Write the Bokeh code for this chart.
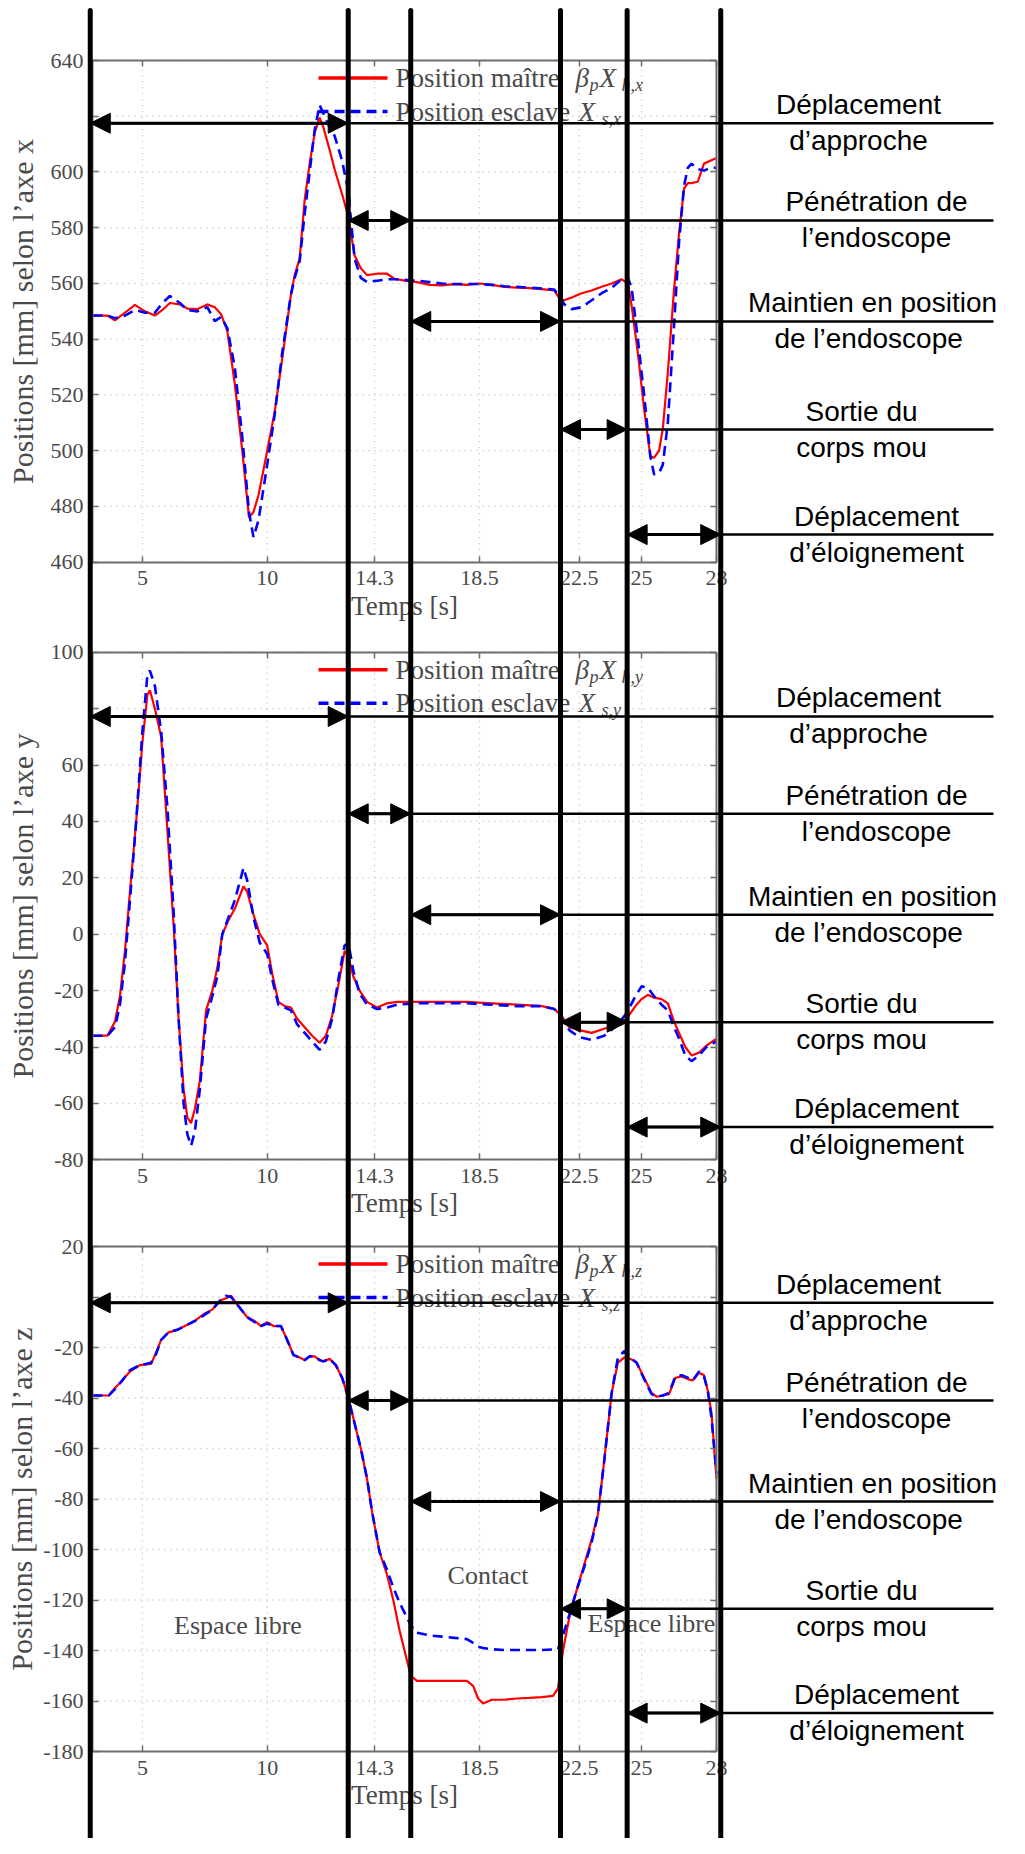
from bokeh.plotting import figure
from bokeh.models import Range1d, LinearAxis, FixedTicker, Arrow, NormalHead
from bokeh.core.properties import value
from bokeh.embed import file_html
from bokeh.resources import INLINE

# ---------------- data ----------------
time_x = [3.0, 3.6, 3.9, 4.3, 4.7, 5.1, 5.5, 5.8, 6.1, 6.5,
          6.8, 7.2, 7.6, 7.9, 8.15, 8.4, 8.7, 9.0, 9.27, 9.45,
          9.65, 10.0, 10.3, 10.6, 10.95, 11.1, 11.3, 11.5, 11.7, 11.9,
          12.1, 12.25, 12.5, 12.7, 13.0, 13.25, 13.5, 13.75, 14.0, 14.4,
          14.8, 15.1, 15.5, 16.0, 16.5, 17.0, 17.5, 18.0, 18.5, 19.0,
          19.5, 20.0, 20.5, 21.0, 21.5, 21.75, 21.9, 22.2, 22.6, 23.0,
          23.4, 23.8, 24.2, 24.45, 24.6, 24.85, 25.1, 25.35, 25.5, 25.7,
          25.85, 26.05, 26.3, 26.5, 26.7, 26.85, 27.0, 27.25, 27.5, 27.75, 28.0]
master_x = [548.5, 548.5, 546.8, 549.5, 552.3, 550, 548.5, 550.5, 553, 552.5,
            551, 550.8, 552.5, 551.5, 549, 543, 524, 500, 476, 478,
            484, 500, 514, 533, 556, 563, 569, 590, 603, 614,
            619.5, 616, 608, 601, 592, 584, 570, 565.5, 563, 563.5,
            563.5, 561.7, 561, 560.5, 559.5, 559.3, 559.8, 559.5, 560, 559.5,
            558.8, 558.5, 558.3, 558, 557.5, 554, 554, 555, 556.5, 557.5,
            558.8, 560, 561.5, 560, 552, 535, 515, 498, 497.5, 500,
            508, 528, 558, 578, 594, 596, 596, 596.5, 603, 604, 605]
slave_x = [548.5, 548.5, 547.5, 548.5, 550.5, 549.5, 549.5, 553, 555.5, 553,
           550.5, 550, 551.5, 546.5, 548, 544, 530, 505, 478, 469,
           475, 495, 513, 535, 556, 562, 568, 585, 600, 615,
           624, 621, 616, 613, 604, 593, 569, 562, 560.5, 561,
           561.5, 561.5, 561.3, 561, 560.5, 560, 559.8, 559.8, 559.8, 559.5,
           559, 558.8, 558.5, 558.2, 557.8, 555, 552.5, 550.8, 551.5, 554,
           556.5, 558.5, 561.5, 562, 558.5, 540, 520, 498, 491.5, 492,
           495, 510, 545, 575, 595, 601.5, 603, 601, 600.5, 601.5, 601.5]

time_y = [3.0, 3.6, 3.9, 4.1, 4.3, 4.5, 4.75, 5.0, 5.2, 5.3,
          5.5, 5.75, 6.0, 6.25, 6.45, 6.65, 6.8, 6.95, 7.1, 7.3,
          7.55, 7.8, 8.0, 8.2, 8.45, 8.7, 9.05, 9.2, 9.45, 9.7,
          10.0, 10.2, 10.45, 10.7, 10.95, 11.2, 11.5, 11.8, 12.1, 12.35,
          12.6, 12.85, 13.1, 13.25, 13.45, 13.7, 14.0, 14.4, 14.8, 15.2,
          16.0, 17.0, 18.0, 19.0, 20.0, 21.0, 21.5, 21.8, 22.1, 22.5,
          23.0, 23.5, 24.0, 24.4, 24.75, 25.0, 25.25, 25.5, 25.8, 26.05,
          26.3, 26.5, 26.75, 27.0, 27.3, 27.6, 28.0]
master_y = [-36, -36, -31, -22, -6, 15, 40, 68, 85, 86.5,
            80, 70, 37, 3, -30, -55, -65, -67, -62, -52,
            -27, -20, -12, 0, 5, 9, 17, 15, 7, 0,
            -4, -14, -24, -25.5, -26, -30, -33, -36, -38.5, -36,
            -29, -18, -6, -8, -15, -20, -24, -26, -24.5, -24,
            -24, -24, -24, -24.5, -25, -25.5, -26.5, -29, -33, -34,
            -35, -33.5, -32, -30, -25.5, -23, -21.5, -22.5, -23, -24.5,
            -31, -35, -40, -43, -42, -39.5, -37]
slave_y = [-36, -36, -33, -25, -10, 12, 40, 72, 92, 93.5,
           88, 72, 45, 8, -30, -60, -71, -75, -70, -55,
           -30, -22, -15, 0, 6, 12, 23.5, 19, 6, -3,
           -7, -16, -25, -26, -27, -32, -35, -38, -41, -38,
           -30, -16, -4, -3, -13, -21, -25, -26.5, -26, -25,
           -24.5, -24.5, -24.5, -25, -25.5, -25.5, -26.5, -30, -34, -36.5,
           -37.5, -36, -32.5, -28, -22, -18.5, -19, -22, -25, -27,
           -33, -37, -43, -45, -43, -40, -38]

time_z = [3.0, 3.65, 3.9, 4.2, 4.5, 4.9, 5.35, 5.55, 5.75, 6.05,
          6.4, 6.8, 7.1, 7.5, 7.8, 8.1, 8.35, 8.55, 8.8, 9.2,
          9.5, 9.75, 10.0, 10.25, 10.55, 10.8, 11.05, 11.3, 11.5, 11.7,
          11.9, 12.1, 12.25, 12.5, 12.75, 13.0, 13.25, 13.5, 13.75, 14.0,
          14.2, 14.5, 14.8, 15.05, 15.3, 15.55, 15.75, 16.0, 16.5, 17.0,
          17.5, 18.0, 18.25, 18.45, 18.65, 19.0, 19.5, 20.0, 20.5, 21.0,
          21.45, 21.65, 21.85, 22.1, 22.4, 22.7, 23.0, 23.25, 23.5, 23.8,
          24.05, 24.3, 24.55, 24.8, 25.1, 25.4, 25.6, 25.85, 26.1, 26.35,
          26.6, 26.85, 27.05, 27.3, 27.5, 27.65, 27.8, 28.0]
master_z = [-39, -39, -36, -33, -29.5, -27, -26.5, -22, -17, -14,
            -13, -11, -9.5, -6.5, -5, -1.5, -0.5, 0.5, -3, -8,
            -9.5, -11.5, -10, -11.5, -11.5, -17, -23, -24, -25, -23.5,
            -23.5, -25, -25.5, -24.5, -27, -32, -40, -50, -60, -72,
            -85, -101, -110, -120, -132, -142, -150, -152, -152, -152,
            -152, -152, -154, -159, -161, -159.5, -159.5, -159, -158.8, -158.5,
            -158, -155, -140, -127, -116, -106, -96, -86, -65, -38,
            -26, -24, -24.5, -26, -32, -38, -39.5, -39, -38.5, -32,
            -31.5, -32.5, -33, -30, -31, -37, -46, -72]
slave_z = [-39, -39, -36.5, -33, -29, -27, -26, -22.5, -17, -14,
           -13, -11, -9.5, -7, -5, -1.5, 0.5, 0, -3, -8,
           -10, -11.5, -10.5, -11.5, -11.5, -17, -23, -24, -25, -23.5,
           -23.5, -25, -25.5, -24.5, -27, -32, -40, -50, -60, -72,
           -85, -101, -108, -115, -121, -126, -130, -133, -134, -134.5,
           -135, -135.5, -137, -138.5, -139, -139.5, -139.8, -139.8, -139.8, -139.8,
           -139.6, -139.5, -134, -126, -116, -107, -97, -86, -65, -38,
           -24, -21.5, -24, -26, -32.5, -38.5, -39.5, -39, -38, -31.5,
           -31, -32, -33, -29.5, -31.5, -37, -48, -70]

x_ticks = [5, 10, 14.3, 18.5, 22.5, 25, 28]
x_tick_labels = ["5", "10", "14.3", "18.5", "22.5", "25", "28"]
y_ticks_x = [460, 480, 500, 520, 540, 560, 580, 600, 620, 640]
y_ticks_y = [-80, -60, -40, -20, 0, 20, 40, 60, 80, 100]
y_ticks_z = [-180, -160, -140, -120, -100, -80, -60, -40, -20, 0, 20]
x_label = "Temps [s]"
y_label = "Positions [mm] selon l\u2019axe "
legend_master = "Position ma\u00eetre "
legend_slave = "Position esclave "

# phase boundaries (s) and their descriptions
phase_bounds = [2.91, 13.245, 15.75, 21.75, 24.42, 28.17]
phase_texts = [("D\u00e9placement", "d\u2019approche"),
               ("P\u00e9n\u00e9tration de", "l\u2019endoscope"),
               ("Maintien en position", "de  l\u2019endoscope"),
               ("Sortie du", "corps mou"),
               ("D\u00e9placement", "d\u2019\u00e9loignement")]
phase_rows_x = [617.5, 582.6, 546.4, 507.6, 469.9]
phase_rows_y = [77.2, 42.7, 6.9, -31.2, -68.4]
phase_rows_z = [-2.3, -41.0, -81.0, -123.5, -164.8]
region_labels_z = ["Espace libre", "Contact", "Espace libre"]

# ---------------- layout (reference pixels) ----------------
OFF = 0
CW, CH = 1009, 1838
PX_L, PX_R = 92.0, 716.0
T_L, T_R = 3.0, 28.0
SX = (PX_R - PX_L) / (T_R - T_L)


def t_at(px):
    return T_L + (px - PX_L) / SX


panels = [
    dict(name="px", letter="x", t=time_x, m=master_x, s=slave_x, ticks=y_ticks_x,
         vmin=460, vmax=640, top=60.0, bot=561.7, rows=phase_rows_x, hidden=620, als=9),
    dict(name="py", letter="y", t=time_y, m=master_y, s=slave_y, ticks=y_ticks_y,
         vmin=-80, vmax=100, top=651.7, bot=1159.3, rows=phase_rows_y, hidden=80, als=9),
    dict(name="pz", letter="z", t=time_z, m=master_z, s=slave_z, ticks=y_ticks_z,
         vmin=-180, vmax=20, top=1246.0, bot=1751.0, rows=phase_rows_z, hidden=0, als=2),
]
for P in panels:
    P["k"] = (P["bot"] - P["top"]) / (P["vmax"] - P["vmin"])
    P["start"] = P["vmin"] - (OFF + CH - P["bot"]) / P["k"]
    P["end"] = P["vmax"] + (P["top"] - OFF) / P["k"]


def v_at(P, py):
    return P["vmax"] - (py - P["top"]) / P["k"]


p = figure(width=CW, height=CH, x_range=Range1d(t_at(OFF), t_at(OFF + CW)),
           y_range=Range1d(panels[0]["start"], panels[0]["end"]),
           x_axis_location=None, y_axis_location=None,
           output_backend="svg", toolbar_location=None, min_border=0,
           outline_line_color=None, background_fill_color="white",
           border_fill_color="white")
p.grid.visible = False
p.extra_y_ranges = {P["name"]: Range1d(P["start"], P["end"]) for P in panels}

GREY = "#4a4a4a"
AX = dict(axis_line_color="#6e6e6e", axis_line_width=2,
          major_tick_line_color="#6e6e6e", major_tick_line_width=1.5,
          major_tick_in=6, major_tick_out=0, minor_tick_line_color=None,
          major_label_text_font="Liberation Serif", major_label_text_font_size="22px",
          major_label_text_color=GREY,
          axis_label_text_font="Liberation Serif",
          axis_label_text_color=GREY, axis_label_text_font_style="normal")
GRID = dict(line_color="#bdbdbd", line_dash="1 5", line_width=1.3)
SERIF = value("Liberation Serif")
SANS = value("Liberation Sans")
X_END = t_at(993)
text_cx = [858, 876, 872, 861, 876]

for P in panels:
    n = P["name"]
    k = P["k"]
    nx, ny = len(x_ticks), len(P["ticks"])
    # dotted grid
    p.segment(x0=x_ticks, y0=[P["vmin"]] * nx, x1=x_ticks, y1=[P["vmax"]] * nx,
              y_range_name=n, **GRID)
    p.segment(x0=[T_L] * ny, y0=P["ticks"], x1=[T_R] * ny, y1=P["ticks"],
              y_range_name=n, **GRID)
    # curves
    p.line(P["t"], P["m"], line_color="#ff0000", line_width=2.2, y_range_name=n)
    p.line(P["t"], P["s"], line_color="#0000ff", line_width=2.6, line_dash="10 6",
           y_range_name=n)

    # axes (box)
    ylab = {v: ("" if v == P["hidden"] else str(v)) for v in P["ticks"]}
    yax = LinearAxis(y_range_name=n, fixed_location=T_L, bounds=(P["vmin"], P["vmax"]),
                     ticker=FixedTicker(ticks=P["ticks"]),
                     major_label_overrides=ylab,
                     axis_label=y_label + P["letter"], major_label_standoff=9,
                     axis_label_standoff=P["als"], axis_label_text_font_size="30px", **AX)
    p.add_layout(yax, "left")
    xax = LinearAxis(y_range_name=n, fixed_location=P["vmin"], bounds=(T_L, T_R),
                     ticker=FixedTicker(ticks=x_ticks),
                     major_label_overrides=dict(zip(x_ticks, x_tick_labels)),
                     axis_label=x_label, major_label_standoff=9,
                     axis_label_standoff=2, axis_label_text_font_size="27px", **AX)
    p.add_layout(xax, "below")
    tax = LinearAxis(y_range_name=n, fixed_location=P["vmax"], bounds=(T_L, T_R),
                     ticker=FixedTicker(ticks=x_ticks),
                     major_label_overrides={v: "" for v in x_ticks}, **AX)
    p.add_layout(tax, "above")
    rax = LinearAxis(y_range_name=n, fixed_location=T_R, bounds=(P["vmin"], P["vmax"]),
                     ticker=FixedTicker(ticks=P["ticks"]),
                     major_label_overrides={v: "" for v in P["ticks"]}, **AX)
    p.add_layout(rax, "right")

    # legend
    r1 = v_at(P, P["top"] + 17.5)
    r2 = v_at(P, P["top"] + 51)
    sub = 7 / k
    p.segment(x0=[t_at(318)], y0=[r1], x1=[t_at(387)], y1=[r1], line_color="#ff0000",
              line_width=3.5, y_range_name=n)
    p.segment(x0=[t_at(318)], y0=[r2], x1=[t_at(387)], y1=[r2], line_color="#0000ff",
              line_width=3.5, line_dash="10 6", y_range_name=n)
    p.text(x=[t_at(395), t_at(395)], y=[r1, r2], text=[legend_master, legend_slave],
           text_font=SERIF, text_font_size="27px", text_color=GREY,
           text_baseline="middle", text_align="left", y_range_name=n)
    p.text(x=[t_at(575), t_at(599), t_at(578)], y=[r1, r1, r2], text=["\u03b2", "X", "X"],
           text_font=SERIF, text_font_size="27px", text_font_style="italic",
           text_color=GREY, text_baseline="middle", text_align="left", y_range_name=n)
    p.text(x=[t_at(589), t_at(621), t_at(601)], y=[r1 - sub, r1 - sub, r2 - sub],
           text=["p", "h," + P["letter"], "s," + P["letter"]],
           text_font=SERIF, text_font_size="18px", text_font_style="italic",
           text_color=GREY, text_baseline="middle", text_align="left", y_range_name=n)

    # phase arrows and descriptions
    rows = P["rows"]
    p.segment(x0=phase_bounds[:5], y0=rows, x1=[X_END] * 5, y1=rows,
              line_color="black", line_width=2.5, y_range_name=n, level="annotation")
    for i in range(5):
        p.add_layout(Arrow(start=NormalHead(size=20, fill_color="black", line_color="black"),
                           end=NormalHead(size=20, fill_color="black", line_color="black"),
                           x_start=phase_bounds[i], x_end=phase_bounds[i + 1],
                           y_start=rows[i], y_end=rows[i], y_range_name=n,
                           line_width=3, line_color="black"))
    p.text(x=[t_at(c) for c in text_cx], y=[r + 18.5 / k for r in rows],
           text=[a for a, b in phase_texts], text_font=SANS, text_font_size="28px",
           text_color="black", text_align="center", text_baseline="middle",
           y_range_name=n)
    p.text(x=[t_at(c) for c in text_cx], y=[r - 17.5 / k for r in rows],
           text=[b for a, b in phase_texts], text_font=SANS, text_font_size="28px",
           text_color="black", text_align="center", text_baseline="middle",
           y_range_name=n)

# region labels in the z panel
PZ = panels[2]
p.text(x=[t_at(237.5), t_at(487.5), t_at(651)],
       y=[v_at(PZ, 1625), v_at(PZ, 1575), v_at(PZ, 1623)],
       text=region_labels_z, text_font=SERIF, text_font_size="26px", text_color=GREY,
       text_align="center", text_baseline="middle", y_range_name="pz")

# vertical phase separators spanning the whole figure
P1 = panels[0]
p.segment(x0=phase_bounds, y0=[v_at(P1, 10)] * 6, x1=phase_bounds, y1=[P1["start"]] * 6,
          y_range_name="px", line_color="black", line_width=5, line_cap="round",
          level="overlay")

open("out.html", "w", encoding="utf-8").write(file_html(p, INLINE, "chart"))
